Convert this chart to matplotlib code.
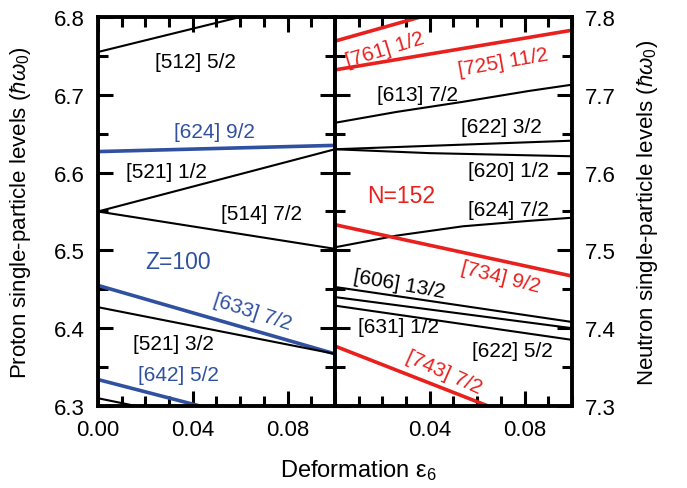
import matplotlib
matplotlib.use("Agg")
import matplotlib.pyplot as plt
from matplotlib.ticker import MultipleLocator

plt.rcParams["font.family"] = ["Liberation Sans", "DejaVu Sans"]
plt.rcParams["mathtext.fontset"] = "custom"
plt.rcParams["mathtext.rm"] = "Liberation Sans"
plt.rcParams["mathtext.it"] = "Liberation Sans:italic"

BLUE = "#3050a0"
RED = "#e8201e"

# --------- Proton levels (left panel) ---------
p_names = ["[512] 5/2", "[624] 9/2", "[521] 1/2", "[514] 7/2",
           "[633] 7/2", "[521] 3/2", "[642] 5/2", "other"]
p_x = [[0, 0.06], [0, 0.1], [0, 0.1], [0, 0.1],
       [0, 0.1], [0, 0.1], [0, 0.043], [0, 0.016]]
p_y = [[6.755, 6.80], [6.627, 6.635], [6.550, 6.630], [6.550, 6.502],
       [6.455, 6.367], [6.427, 6.367], [6.334, 6.30], [6.310, 6.30]]
p_blue = [False, True, False, False, True, False, True, False]

# label positions (x, y, rotation)
p_lab_x = [0.041, 0.049, 0.029, 0.069, 0.065, 0.032, 0.034]
p_lab_y = [6.743, 6.653, 6.602, 6.547, 6.421, 6.380, 6.341]
p_lab_rot = [0, 0, 0, 0, -18, 0, 0]

# --------- Neutron levels (right panel) ---------
n_names = ["[761] 1/2", "[725] 11/2", "[613] 7/2", "[622] 3/2", "[620] 1/2",
           "[624] 7/2", "[734] 9/2", "[606] 13/2", "[631] 1/2", "[622] 5/2",
           "[743] 7/2"]
n_x = [[0, 0.036], [0, 0.1], [0, 0.026, 0.054, 0.082, 0.1], [0, 0.1],
       [0, 0.04, 0.1], [0, 0.026, 0.054, 0.082, 0.1], [0, 0.1], [0, 0.1],
       [0, 0.1], [0, 0.1], [0, 0.0646]]
n_y = [[7.769, 7.80], [7.732, 7.783], [7.664, 7.678, 7.691, 7.705, 7.713],
       [7.630, 7.641], [7.630, 7.625, 7.621],
       [7.504, 7.519, 7.531, 7.538, 7.542], [7.533, 7.467], [7.453, 7.408],
       [7.440, 7.400], [7.429, 7.385], [7.377, 7.30]]
n_red = [True, True, False, False, False, False, True, False, False, False, True]

n_lab_x = [0.021, 0.071, 0.035, 0.070, 0.073, 0.073, 0.070, 0.027, 0.027, 0.075, 0.046]
n_lab_y = [7.759, 7.742, 7.700, 7.659, 7.603, 7.553, 7.466, 7.457, 7.402, 7.371, 7.344]
n_lab_rot = [17, 10, 0, 0, 0, 0, -14, -10, 0, 0, -24]

# --------- Figure ---------
fig = plt.figure(figsize=(6.87, 4.89), dpi=100)
ax1 = fig.add_axes([0.1426, 0.1677, 0.345, 0.7955])
ax2 = fig.add_axes([0.4876, 0.1677, 0.345, 0.7955])

for xs, ys, b in zip(p_x, p_y, p_blue):
    ax1.plot(xs, ys, color=BLUE if b else "black", lw=2.6 if b else 1.5,
             solid_capstyle="butt")
for i in range(len(p_lab_x)):
    ax1.text(p_lab_x[i], p_lab_y[i], p_names[i], fontsize=15,
             color=BLUE if p_blue[i] else "black", rotation=p_lab_rot[i],
             ha="center", va="center", rotation_mode="anchor")
ax1.text(0.034, 6.486, "Z=100", fontsize=16.5, color=BLUE, ha="center", va="center")

for xs, ys, r in zip(n_x, n_y, n_red):
    ax2.plot(xs, ys, color=RED if r else "black", lw=2.6 if r else 1.5,
             solid_capstyle="butt")
for i in range(len(n_lab_x)):
    ax2.text(n_lab_x[i], n_lab_y[i], n_names[i], fontsize=15,
             color=RED if n_red[i] else "black", rotation=n_lab_rot[i],
             ha="center", va="center", rotation_mode="anchor")
ax2.text(0.028, 7.570, "N=152", fontsize=16.5, color=RED, ha="center", va="center")

for ax in (ax1, ax2):
    ax.set_xlim(0, 0.1)
    ax.xaxis.set_major_locator(MultipleLocator(0.04))
    ax.xaxis.set_minor_locator(MultipleLocator(0.01))
    ax.yaxis.set_major_locator(MultipleLocator(0.1))
    ax.yaxis.set_minor_locator(MultipleLocator(0.05))
    ax.tick_params(which="both", direction="in", top=True, bottom=True,
                   left=True, right=True, width=2.2, labelsize=16)
    ax.tick_params(which="major", length=11)
    ax.tick_params(which="minor", length=7)
    ax.tick_params(axis="x", which="major", pad=9.5)
    ax.tick_params(axis="y", which="major", pad=9.5)
    for sp in ax.spines.values():
        sp.set_linewidth(2.8)

ax1.set_ylim(6.3, 6.8)
ax1.set_xticks([0, 0.04, 0.08])
ax1.set_xticklabels(["0.00", "0.04", "0.08"])
ax1.set_yticks([6.3, 6.4, 6.5, 6.6, 6.7, 6.8])
ax1.set_yticklabels(["6.3", "6.4", "6.5", "6.6", "6.7", "6.8"])
ax1.set_ylabel(r"Proton single-particle levels ($\hbar\omega_0$)", fontsize=16)
ax1.yaxis.set_label_coords(-0.274, 0.5)

ax2.set_ylim(7.3, 7.8)
ax2.set_xticks([0, 0.04, 0.08])
ax2.set_xticklabels(["", "0.04", "0.08"])
ax2.set_yticks([7.3, 7.4, 7.5, 7.6, 7.7, 7.8])
ax2.set_yticklabels(["7.3", "7.4", "7.5", "7.6", "7.7", "7.8"])
ax2.tick_params(labelleft=False, labelright=True)
ax2.yaxis.set_label_position("right")
ax2.set_ylabel(r"Neutron single-particle levels ($\hbar\omega_0$)", fontsize=16)
ax2.yaxis.set_label_coords(1.266, 0.5)

fig.text(0.4076, 0.025, r"Deformation ε$_6$", fontsize=17, ha="left", va="baseline")

fig.savefig("out.png", dpi=100)
